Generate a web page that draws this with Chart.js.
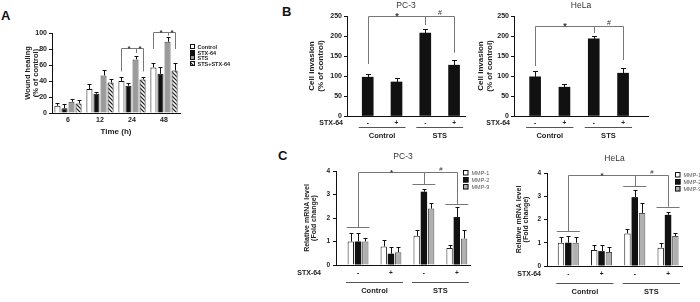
<!DOCTYPE html>
<html>
<head>
<meta charset="utf-8">
<script src="https://cdn.jsdelivr.net/npm/chart.js@4.4.1/dist/chart.umd.min.js"></script>
<style>
  html, body { margin: 0; background: #fff; }
  body { position: relative; width: 700px; height: 302px; overflow: hidden; }
  canvas { position: absolute; }
  .tag { position: absolute; font: bold 13px "Liberation Sans", Arial, sans-serif; color: #111; line-height: 1; }
</style>
</head>
<body>
<div class="tag" style="left:1px;top:9px">A</div>
<div class="tag" style="left:282px;top:5px">B</div>
<div class="tag" style="left:278px;top:149px">C</div>
<canvas id="woundChart"></canvas>
<canvas id="pc3Inv"></canvas>
<canvas id="helaInv"></canvas>
<canvas id="pc3Mmp"></canvas>
<canvas id="helaMmp"></canvas>
<script>
// ── Data ───────────────────────────────────────────────────────────────────────
const timePoints   = ["6", "12", "24", "48"];
const woundNames   = ["Control", "STX-64", "STS", "STS+STX-64"];
const woundControl = [9, 30, 40, 57];
const woundCtrlErr = [4, 6, 5, 6];
const woundStx     = [6, 24, 34, 49];
const woundStxErr  = [5, 2, 4, 8];
const woundSts     = [14, 47, 67, 89];
const woundStsErr  = [4, 7, 4, 6];
const woundBoth    = [12, 38, 42, 53];
const woundBothErr = [4, 4, 3, 9];

const stxSigns       = ["-", "+", "-", "+"];
const pc3Invasion    = [97, 85, 207, 127];
const pc3InvasionErr = [7, 11, 10, 13];
const helaInvasion   = [98, 72, 193, 107];
const helaInvasionErr = [15, 8, 6, 13];

const mmpNames    = ["MMP-1", "MMP-2", "MMP-9"];
const pc3Mmp1     = [1.0, 0.79, 1.24, 0.72];
const pc3Mmp1Err  = [0.38, 0.29, 0.26, 0.12];
const pc3Mmp2     = [1.0, 0.48, 3.12, 2.04];
const pc3Mmp2Err  = [0.38, 0.3, 0.12, 0.42];
const pc3Mmp9     = [1.0, 0.54, 2.4, 1.13];
const pc3Mmp9Err  = [0.15, 0.21, 0.25, 0.37];
const helaMmp1    = [1.0, 0.69, 1.4, 0.79];
const helaMmp1Err = [0.23, 0.2, 0.21, 0.21];
const helaMmp2    = [1.0, 0.64, 2.96, 2.2];
const helaMmp2Err = [0.3, 0.28, 0.3, 0.13];
const helaMmp9    = [1.0, 0.6, 2.28, 1.29];
const helaMmp9Err = [0.26, 0.2, 0.41, 0.11];

// ── Common look ────────────────────────────────────────────────────────────────
const FONT = '"Liberation Sans", Arial, sans-serif';
Chart.defaults.font.family = FONT;
Chart.defaults.color = "#222";
Chart.defaults.animation = false;
Chart.defaults.plugins.legend.display = false;
Chart.defaults.plugins.tooltip.enabled = false;

function place(id, box) {
  const c = document.getElementById(id);
  c.width = box.w; c.height = box.h;
  c.style.left = box.x + "px"; c.style.top = box.y + "px";
  return c;
}
function padFor(box, area, yW, xH) {
  return { left: area.l - box.x - yW, right: box.x + box.w - area.r,
           top: area.t - box.y, bottom: box.y + box.h - area.b - xH };
}
function hatch() {
  const c = document.createElement("canvas");
  c.width = c.height = 4;
  const g = c.getContext("2d");
  g.fillStyle = "#fff"; g.fillRect(0, 0, 4, 4);
  g.strokeStyle = "#111"; g.lineWidth = 1.2;
  g.beginPath();
  g.moveTo(0, 0); g.lineTo(4, 4);
  g.moveTo(-1, 3); g.lineTo(1, 5);
  g.moveTo(3, -1); g.lineTo(5, 1);
  g.stroke();
  return g.createPattern(c, "repeat");
}
function yAxis(max, step, tickSize, yW, title, titleSize, tickPad, lh) {
  return {
    min: 0, max,
    ticks: { stepSize: step, font: { size: tickSize, weight: "bold" }, padding: tickPad, color: "#222" },
    grid: { drawOnChartArea: false, drawTicks: true, tickLength: 3, color: "#111" },
    border: { color: "#111", width: 1 },
    title: { display: true, text: title, color: "#222", padding: 0,
             font: { size: titleSize, weight: "bold", lineHeight: lh } },
    afterFit: s => { s.width = yW; },
  };
}
function signAxis(min, max, pad, size) {
  return {
    type: "linear", min, max, offset: false,
    afterBuildTicks: s => { s.ticks = stxSigns.map((_, i) => ({ value: i })); },
    ticks: { autoSkip: false, maxRotation: 0, padding: pad, color: "#222",
             font: { size, weight: "bold" }, callback: v => stxSigns[v] },
    grid: { display: false, drawTicks: false },
    border: { color: "#111", width: 1 },
    afterFit: s => { s.height = 12; },
  };
}

// ── Extras: error bars, brackets, group labels, legend, title ─────────────────
const extras = {
  id: "extras",
  afterDraw(chart, args, o) {
    const { ctx, chartArea: a, scales: { x, y } } = chart;
    const py = v => y.getPixelForValue(v);
    const bx = ([d, i]) => Math.round(chart.getDatasetMeta(d).data[i].x) + 0.5;
    const seg = pts => {
      ctx.beginPath();
      pts.forEach(([px, qy], k) => (k ? ctx.lineTo(px, qy) : ctx.moveTo(px, qy)));
      ctx.stroke();
    };
    ctx.save();
    ctx.lineWidth = 1;

    // error bars
    ctx.strokeStyle = "#111";
    (o.errors || []).forEach(([vals, errs], d) => {
      chart.getDatasetMeta(d).data.forEach((bar, i) => {
        const cx = Math.round(bar.x) + 0.5;
        const top = Math.round(py(vals[i] + errs[i])) + 0.5;
        seg([[cx, bar.y], [cx, top]]);
        seg([[cx - o.cap, top], [cx + o.cap, top]]);
      });
    });

    // group level lines (panel C)
    ctx.strokeStyle = "#777";
    (o.levels || []).forEach(([cat, lv]) => {
      const b0 = chart.getDatasetMeta(0).data[cat], b2 = chart.getDatasetMeta(2).data[cat];
      const yy = Math.round(py(lv)) + 0.5;
      seg([[b0.x - b0.width / 2 - 1, yy], [b2.x + b2.width / 2 + 1, yy]]);
    });

    // significance brackets
    ctx.textAlign = "center";
    ctx.textBaseline = "alphabetic";
    ctx.fillStyle = "#333";
    (o.brackets || []).forEach(b => {
      const xa = bx(b.a), xb = bx(b.b), yt = Math.round(py(b.top)) + 0.5;
      seg([[xa, py(b.dropA)], [xa, yt], [xb, yt], [xb, py(b.dropB)]]);
      if (b.text === "*") {
        ctx.font = `bold ${o.starSize}px ${FONT}`;
        ctx.fillText("*", (xa + xb) / 2, yt + o.starSize * 0.3);
      } else {
        ctx.font = `${o.starSize - 2}px ${FONT}`;
        ctx.fillText(b.text, (xa + xb) / 2, yt - 1.5);
      }
    });

    // STX-64 row and treatment groups
    if (o.rowLabel) {
      ctx.font = `bold 7px ${FONT}`;
      ctx.fillStyle = "#222";
      ctx.textAlign = "right"; ctx.textBaseline = "middle";
      ctx.fillText(o.rowLabel, a.left - o.rowGap, a.bottom + o.rowY);
    }
    (o.groups || []).forEach(g => {
      const x0 = x.getPixelForValue(g.from) - o.groupExt;
      const x1 = x.getPixelForValue(g.to) + o.groupExt;
      const ly = Math.round(a.bottom + o.groupLine) + 0.5;
      ctx.strokeStyle = "#555";
      seg([[x0, ly], [x1, ly]]);
      ctx.font = `bold 7.5px ${FONT}`;
      ctx.fillStyle = "#222";
      ctx.textAlign = "center"; ctx.textBaseline = "middle";
      ctx.fillText(g.text, (x0 + x1) / 2, a.bottom + o.groupText);
    });

    // legend
    if (o.legend) {
      const L = o.legend;
      chart.data.datasets.forEach((ds, d) => {
        const lx = Math.round(a.right + L.dx), cy = Math.round(a.top + L.dy + d * L.step);
        const top = cy - Math.round(L.box / 2);
        ctx.fillStyle = ds.backgroundColor;
        ctx.fillRect(lx, top, L.box, L.box);
        ctx.strokeStyle = "#111";
        ctx.strokeRect(lx + 0.5, top + 0.5, L.box - 1, L.box - 1);
        ctx.fillStyle = L.color;
        ctx.font = L.font;
        ctx.textAlign = "left"; ctx.textBaseline = "middle";
        ctx.fillText(ds.label, lx + L.box + L.gap, cy + 0.5);
      });
    }

    // panel title
    if (o.title) {
      ctx.font = `8.5px ${FONT}`;
      ctx.fillStyle = "#333";
      ctx.textAlign = "center"; ctx.textBaseline = "middle";
      ctx.fillText(o.title, (a.left + a.right) / 2, a.top - o.titleGap);
    }
    ctx.restore();
  },
};

// ── A: wound healing ───────────────────────────────────────────────────────────
(function () {
  const box = { x: 0, y: 0, w: 250, h: 150 };
  const area = { l: 52, r: 180, t: 33, b: 113 };
  const bar = { categoryPercentage: 0.88, barPercentage: 0.86, borderSkipped: "start" };
  new Chart(place("woundChart", box), {
    type: "bar",
    data: {
      labels: timePoints,
      datasets: [
        { label: woundNames[0], data: woundControl, backgroundColor: "#fff", borderColor: "#111", borderWidth: 1, ...bar },
        { label: woundNames[1], data: woundStx, backgroundColor: "#111", borderColor: "#111", borderWidth: 1, ...bar },
        { label: woundNames[2], data: woundSts, backgroundColor: "#9a9a9a", borderColor: "#444", borderWidth: 1, ...bar },
        { label: woundNames[3], data: woundBoth, backgroundColor: hatch(), borderColor: "#111", borderWidth: 1, ...bar },
      ],
    },
    options: {
      responsive: false,
      layout: { padding: padFor(box, area, 28, 25) },
      scales: {
        x: {
          grid: { display: false, drawTicks: false },
          border: { color: "#111", width: 1 },
          ticks: { font: { size: 7, weight: "bold" }, padding: 3, color: "#222" },
          title: { display: true, text: "Time (h)", color: "#222", font: { size: 8, weight: "bold" }, padding: { top: 0, bottom: 1 } },
          afterFit: s => { s.height = 25; },
        },
        y: yAxis(100, 20, 7, 28, ["Wound healing", "(% of control)"], 7.5, 2, 1.07),
      },
      plugins: {
        extras: {
          cap: 2,
          starSize: 8,
          errors: [[woundControl, woundCtrlErr], [woundStx, woundStxErr], [woundSts, woundStsErr], [woundBoth, woundBothErr]],
          brackets: [
            { a: [0, 2], b: [2, 2], top: 81, dropA: 52, dropB: 75, text: "*" },
            { a: [2, 2], b: [3, 2], top: 81, dropA: 75, dropB: 52, text: "*" },
            { a: [0, 3], b: [2, 3], top: 101, dropA: 80, dropB: 97, text: "*" },
            { a: [2, 3], b: [3, 3], top: 101, dropA: 97, dropB: 80, text: "*" },
          ],
          legend: { dx: 10, dy: 14, step: 5.5, box: 5, gap: 2.5, color: "#222", font: `bold 5.5px ${FONT}` },
        },
      },
    },
    plugins: [extras],
  });
})();

// ── B: cell invasion ──────────────────────────────────────────────────────────
function invasionChart(id, box, area, yW, xMin, xMax, values, errs, title, br) {
  new Chart(place(id, box), {
    type: "bar",
    data: {
      datasets: [{
        data: values.map((v, i) => ({ x: i, y: v })),
        backgroundColor: "#111", borderColor: "#111", borderWidth: 0, barThickness: 11,
      }],
    },
    options: {
      responsive: false,
      layout: { padding: padFor(box, area, yW, 12) },
      scales: {
        x: signAxis(xMin, xMax, 3, 6.5),
        y: yAxis(250, 50, 7, yW, ["Cell invasion", "(% of control)"], 8, 2, 1.15),
      },
      plugins: {
        extras: {
          cap: 2.5, starSize: 9,
          errors: [[values, errs]],
          brackets: [
            { a: [0, 0], b: [0, 2], top: br[0], dropA: br[1], dropB: br[2], text: "*" },
            { a: [0, 2], b: [0, 3], top: br[0], dropA: br[2], dropB: br[3], text: "#" },
          ],
          rowLabel: "STX-64", rowGap: 4, rowY: 7,
          groups: [{ text: "Control", from: 0, to: 1 }, { text: "STS", from: 2, to: 3 }],
          groupExt: 9, groupLine: 11, groupText: 20,
          title, titleGap: 10,
        },
      },
    },
    plugins: [extras],
  });
}
invasionChart("pc3Inv", { x: 290, y: 0, w: 185, h: 145 }, { l: 347, r: 465, t: 16, b: 116 }, 40,
  -0.72, 3.38, pc3Invasion, pc3InvasionErr, "PC-3", [250, 130, 228, 158]);
invasionChart("helaInv", { x: 470, y: 0, w: 200, h: 145 }, { l: 514, r: 648, t: 16, b: 116 }, 38,
  -0.72, 3.85, helaInvasion, helaInvasionErr, "HeLa", [225, 125, 208, 140]);

// ── C: MMP mRNA ───────────────────────────────────────────────────────────────
function mmpChart(id, box, area, yW, xMin, xMax, sets, title, lv, top, rowGap) {
  const colors = [["#fff", "#222"], ["#111", "#111"], ["#b0b0b0", "#555"]];
  new Chart(place(id, box), {
    type: "bar",
    data: {
      datasets: sets.map(([vals], d) => ({
        label: mmpNames[d],
        data: vals.map((v, i) => ({ x: i, y: v })),
        backgroundColor: colors[d][0], borderColor: colors[d][1], borderWidth: d === 1 ? 0 : 1,
        categoryPercentage: 0.66, barPercentage: 0.88,
      })),
    },
    options: {
      responsive: false,
      layout: { padding: padFor(box, area, yW, 12) },
      scales: {
        x: signAxis(xMin, xMax, 4, 6.5),
        y: yAxis(4, 1, 6.5, yW, ["Relative mRNA level", "(Fold change)"], 7, 3, 1.07),
      },
      plugins: {
        extras: {
          cap: 2, starSize: 8,
          errors: sets,
          levels: [[0, lv[0]], [2, lv[1]], [3, lv[2]]],
          brackets: [
            { a: [1, 0], b: [1, 2], top, dropA: lv[0], dropB: lv[1], text: "*" },
            { a: [1, 2], b: [1, 3], top, dropA: lv[1], dropB: lv[2], text: "#" },
          ],
          rowLabel: "STX-64", rowGap, rowY: 8,
          groups: [{ text: "Control", from: 0, to: 1 }, { text: "STS", from: 2, to: 3 }],
          groupExt: 12, groupLine: 17, groupText: 26,
          legend: { dx: -7, dy: 2, step: 7, box: 5.5, gap: 3, color: "#555", font: `5.5px ${FONT}` },
          title, titleGap: 14,
        },
      },
    },
    plugins: [extras],
  });
}
mmpChart("pc3Mmp", { x: 295, y: 150, w: 205, h: 152 }, { l: 336, r: 470, t: 171, b: 265 }, 33, -0.67, 3.4,
  [[pc3Mmp1, pc3Mmp1Err], [pc3Mmp2, pc3Mmp2Err], [pc3Mmp9, pc3Mmp9Err]], "PC-3", [1.6, 3.45, 2.6], 3.95, 15);
mmpChart("helaMmp", { x: 505, y: 150, w: 195, h: 152 }, { l: 547, r: 682, t: 173, b: 266 }, 32, -0.64, 3.42,
  [[helaMmp1, helaMmp1Err], [helaMmp2, helaMmp2Err], [helaMmp9, helaMmp9Err]], "HeLa", [1.5, 3.45, 2.55], 3.9, 6);
</script>
</body>
</html>
